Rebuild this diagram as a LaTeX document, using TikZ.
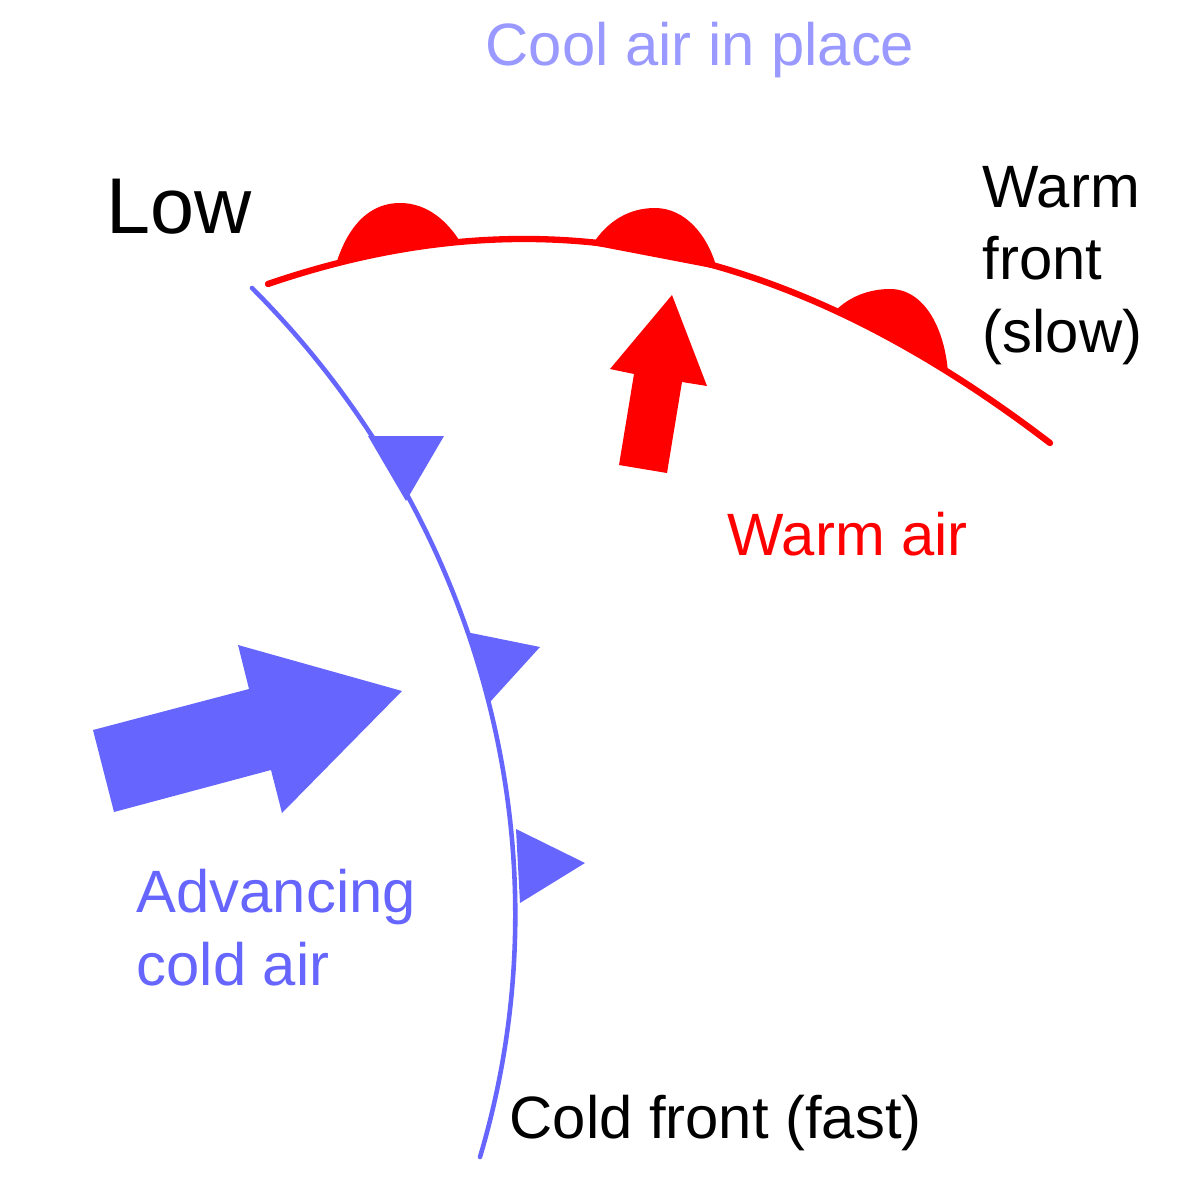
\documentclass[tikz,border=0pt]{standalone}
\usepackage{fontspec}
\setmainfont{Liberation Sans}
\usepackage{tikz}
\usepackage{xcolor}
\usetikzlibrary{positioning}

\definecolor{coldblue}{HTML}{6666FF}
\definecolor{coolblue}{HTML}{9999FF}
\definecolor{warmred}{HTML}{FF0000}

\begin{document}
\begin{tikzpicture}[x=0.01cm, y=-0.01cm,
    lbl/.style={font=\fontsize{17}{20.5}\selectfont, inner sep=0pt, anchor=base west, align=left},
    coldline/.style={coldblue, line width=1.3pt, line cap=round},
    warmline/.style={warmred, line width=1.8pt, line cap=round}]
    \useasboundingbox (0,0) rectangle (1200,1200);

    % Cold front with its triangles
    \draw[coldline] (252,288) .. controls (480,516) and (572,848) .. (480,1157);
    \fill[coldblue] (368,436) -- (444,436) -- (406,501) -- cycle;
    \fill[coldblue] (466,632) -- (540,647) -- (490,702) -- cycle;
    \fill[coldblue] (516,829) -- (585,863) -- (520,903) -- cycle;

    % Warm front with its bumps
    \fill[warmred] (337,261) .. controls (350,222) and (372,203) .. (400,203)
        .. controls (428,203) and (448,222) .. (461,243) -- cycle;
    \fill[warmred] (592,245) .. controls (608,220) and (630,208) .. (655,208)
        .. controls (685,208) and (708,235) .. (717,269) -- cycle;
    \fill[warmred] (835,311) .. controls (850,296) and (870,289) .. (890,289)
        .. controls (925,289) and (945,330) .. (948,373) -- cycle;
    \draw[warmline] (268,284) .. controls (554,186) and (800,252) .. (1050,443);

    % Big arrows
    \fill[coldblue] (93,730) -- (249,689) -- (238,645) -- (402,691) -- (282,813)
        -- (271,770) -- (114,812) -- cycle;
    \fill[warmred] (672,295) -- (707,386) -- (682,382) -- (667,473) -- (619,465)
        -- (634,374) -- (610,369) -- cycle;

    % Labels
    \node[lbl, coolblue] (cool) at (485,65) {Cool air in place};
    \node[lbl, font=\fontsize{22.5}{27}\selectfont] (low) at (106,233) {Low};
    \node[lbl] (warmfront) at (982,352) {Warm\\front\\(slow)};
    \node[lbl, warmred] (warmair) at (727,555) {Warm air};
    \node[lbl, coldblue] (coldair) at (136,985) {Advancing\\cold air};
    \node[lbl] (coldfront) at (509,1138) {Cold front (fast)};
\end{tikzpicture}
\end{document}
